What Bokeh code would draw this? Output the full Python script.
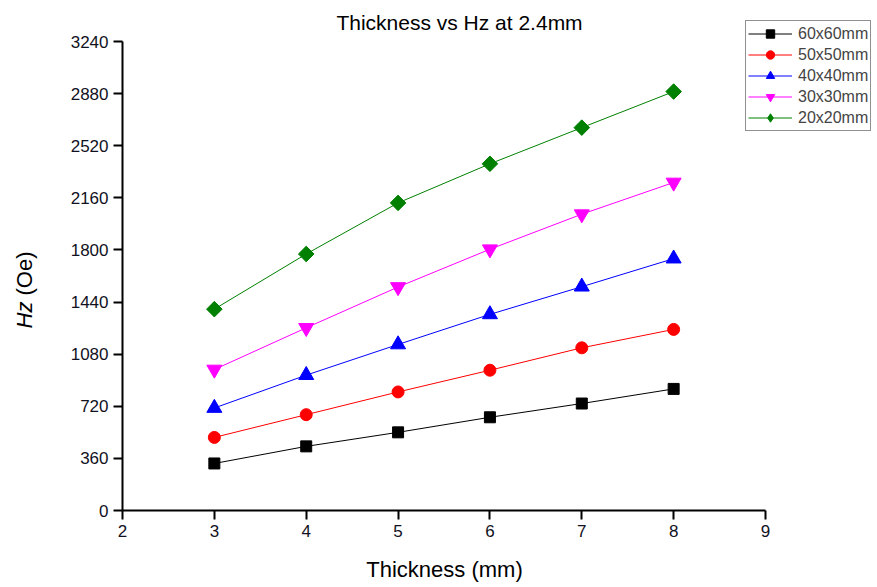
import math
from bokeh.plotting import figure
from bokeh.models import Legend, LegendItem, FixedTicker, Range1d, Label
from bokeh.embed import file_html
from bokeh.resources import INLINE

# ---- data ----
thickness = [3, 4, 5, 6, 7, 8]
hz_60 = [325, 443, 540, 644, 739, 840]
hz_50 = [505, 662, 819, 969, 1124, 1251]
hz_40 = [708, 935, 1147, 1355, 1546, 1740]
hz_30 = [974, 1262, 1544, 1805, 2047, 2266]
hz_20 = [1391, 1772, 2125, 2395, 2645, 2894]
series_names = ["60x60mm", "50x50mm", "40x40mm", "30x30mm", "20x20mm"]
x_ticks = [2, 3, 4, 5, 6, 7, 8, 9]
y_ticks = [0, 360, 720, 1080, 1440, 1800, 2160, 2520, 2880, 3240]
title_text = "Thickness vs Hz at 2.4mm"
x_label_text = "Thickness (mm)"
y_label_parts = ["Hz", "(Oe)"]

# ---- layout (pixels) ----
W, H = 876, 586
FRAME_L, FRAME_R, FRAME_T, FRAME_B = 122, 876, 0, 510
AX_R, AX_T = 765, 41          # pixel where the last x / y tick sits
FONT = "Liberation Sans"

ppx = (AX_R - FRAME_L) / (x_ticks[-1] - x_ticks[0])
ppy = (FRAME_B - AX_T) / (y_ticks[-1] - y_ticks[0])
x_end = x_ticks[-1] + (FRAME_R - AX_R) / ppx
y_end = y_ticks[-1] + (AX_T - FRAME_T) / ppy


def dx(px):
    return x_ticks[0] + (px - FRAME_L) / ppx


def dy(py):
    return y_ticks[0] + (FRAME_B - py) / ppy


p = figure(width=W, height=H, output_backend="svg", toolbar_location=None,
           x_range=Range1d(x_ticks[0], x_end), y_range=Range1d(y_ticks[0], y_end),
           min_border_left=FRAME_L, min_border_right=W - FRAME_R,
           min_border_top=FRAME_T, min_border_bottom=H - FRAME_B)
p.outline_line_color = None
p.grid.visible = False
p.background_fill_color = "white"

for ax in (p.xaxis[0], p.yaxis[0]):
    ax.axis_line_width = 2
    ax.axis_line_color = "black"
    ax.major_tick_line_width = 2
    ax.major_tick_line_color = "black"
    ax.major_tick_out = 9
    ax.major_tick_in = 0
    ax.minor_tick_line_color = None
    ax.major_label_text_font = FONT
    ax.major_label_text_font_size = "17px"
    ax.major_label_text_color = "#111122"

p.xaxis.ticker = FixedTicker(ticks=x_ticks)
p.yaxis.ticker = FixedTicker(ticks=y_ticks)
p.xaxis.bounds = (x_ticks[0], x_ticks[-1])
p.yaxis.bounds = (y_ticks[0], y_ticks[-1])
p.xaxis.major_label_standoff = 5
p.yaxis.major_label_standoff = 5

# title inside the (extended) frame
p.add_layout(Label(x=dx(459), y=dy(22), text=title_text, text_font=FONT,
                   text_font_size="21px", text_align="center",
                   text_baseline="middle", text_color="black"))

# axis titles as labels in the side panels
p.add_layout(Label(x=dx(444), y=dy(569), text=x_label_text, text_font=FONT,
                   text_font_size="22px", text_align="center",
                   text_baseline="middle", text_color="black"), "below")
p.add_layout(Label(x=dx(24), y=dy(328), text=y_label_parts[0], text_font=FONT,
                   text_font_size="22px", text_font_style="italic",
                   text_align="left", text_baseline="middle", angle=math.pi / 2,
                   text_color="black"), "left")
p.add_layout(Label(x=dx(24), y=dy(295), text=y_label_parts[1], text_font=FONT,
                   text_font_size="22px", text_align="left",
                   text_baseline="middle", angle=math.pi / 2,
                   text_color="black"), "left")

specs = [
    (hz_60, "black", "square", 11, 0, None),
    (hz_50, "red", "circle", 12, 0, None),
    (hz_40, "blue", "triangle", 15, 0, None),
    (hz_30, "magenta", "inverted_triangle", 15, 0, None),
    (hz_20, "green", "square", 11, math.pi / 4, "diamond"),
]
items = []
for name, (vals, col, mk, sz, ang, legend_mk) in zip(series_names, specs):
    ln = p.line(thickness, vals, line_color=col, line_width=1)
    key = None
    if legend_mk is not None:
        # diamond swatch for the key; hidden under the rotated square in the plot
        key = p.scatter(thickness, vals, marker=legend_mk, size=14,
                        fill_color=col, line_color=col)
    sc = p.scatter(thickness, vals, marker=mk, size=sz, angle=ang,
                   fill_color=col, line_color=col)
    items.append(LegendItem(label=name, renderers=[ln, key if key is not None else sc]))

legend = Legend(items=items, location=(745 - FRAME_L, FRAME_B - 131))
legend.border_line_color = "#222222"
legend.border_line_width = 1
legend.background_fill_color = "white"
legend.label_text_font = FONT
legend.label_text_font_size = "16px"
legend.glyph_width = 44
legend.glyph_height = 21
legend.label_height = 21
legend.spacing = 0
legend.padding = 2
legend.margin = 0
legend.label_standoff = 6
p.add_layout(legend, "center")

open("out.html", "w").write(file_html(p, INLINE))
